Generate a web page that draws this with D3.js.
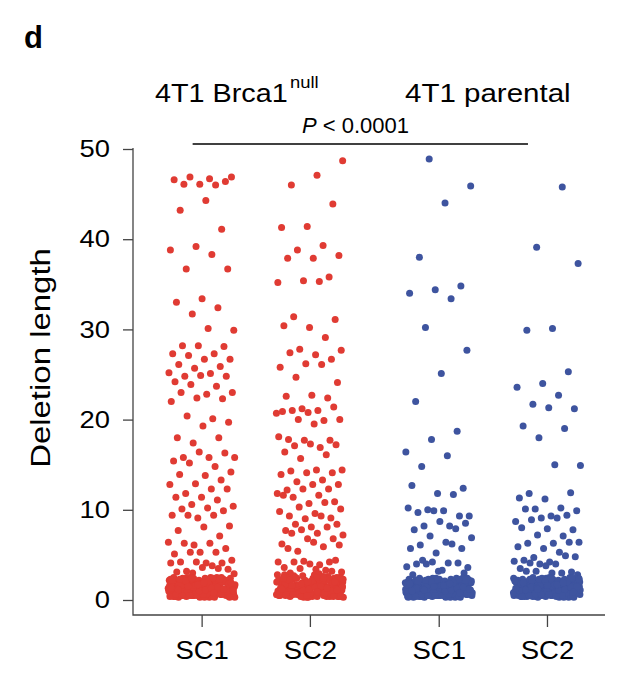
<!DOCTYPE html>
<html>
<head>
<meta charset="utf-8">
<script src="https://cdn.jsdelivr.net/npm/d3@7"></script>
<style>
  html, body { margin: 0; padding: 0; background: #fff; }
  svg { display: block; font-family: "Liberation Sans", Arial, Helvetica, sans-serif; }
</style>
</head>
<body>
<svg id="chart" width="636" height="686"></svg>
<script>
// ---------------- DATA ----------------
const panelLetter = "d";
const sampleLabels = ["SC1", "SC2", "SC1", "SC2"];
const conditionLabels = ["4T1 Brca1", "4T1 parental"];
const conditionSuperscript = "null";
const pValueLabel = "< 0.0001";
const yAxisTitle = "Deletion length";
const yTicks = [0, 10, 20, 30, 40, 50];

const brcaSC1 = [
  46.7,46.1,46.4,46.1,46.6,46.0,46.9,46.9,44.3,43.2,41.1,39.2,38.8,38.3,36.7,36.7,33.4,33.0,32.4,31.7,
  29.9,30.1,28.2,28.1,28.2,27.3,27.3,27.1,26.7,26.7,26.1,25.9,25.7,25.2,25.1,24.8,24.8,24.9,24.2,23.7,
  23.9,23.0,22.8,23.0,22.3,22.4,22.0,20.1,20.4,19.7,19.3,18.0,18.0,17.4,15.8,15.8,15.8,16.3,16.4,15.4,
  14.8,15.2,14.2,13.8,13.9,13.3,12.9,12.8,12.3,11.8,12.3,11.4,11.4,11.1,10.6,10.4,10.2,10.1,9.9,9.1,
  9.4,9.4,9.4,8.2,8.1,7.7,7.1,6.1,6.4,6.3,6.3,5.7,5.3,5.1,5.3,5.3,4.4,4.1,4.2,4.1,
  4.2,4.1,3.8,3.2,3.4,3.6,3.1,3.5,3.0,2.9,
  0.5,1.2,2.1,0.8,1.7,0.3,1.4,2.4,0.9,1.9,0.6,1.1,2.2,0.4,1.5,2.0,0.7,1.3,2.5,1.0,
  0.5,1.8,0.9,2.3,1.2,0.6,1.6,2.1,0.4,1.0,1.4,0.8,2.4,1.7,0.3,1.1,2.0,0.7,1.5,2.2,
  0.9,1.3,0.5,1.9,2.5,1.0,0.6,1.6,2.3,0.8,1.2,0.4,1.8,2.1,0.7,1.4,0.5,2.0,1.1,0.9,
  1.7,2.4,0.6,1.3,0.3,1.5,2.2,1.0,0.8,1.9,0.5,1.2,2.3,0.7,1.6,0.4,1.4,2.0,0.9,1.1,
  1.8,0.6,2.5,1.3,0.8,1.0,2.1,0.5,1.5,1.7,0.7,1.2,2.2,0.4,1.9,0.9,1.4,2.4,0.6,1.1,
  0.8,1.6,0.4,2.0,1.3,0.6,1.0,1.8,0.5,1.2,
  1.5,0.6,2.3,1.0,1.9,0.4,1.2,2.1,0.8,1.6,2.4,0.5,1.3,1.8,0.9,2.2,0.3,1.1,1.7,2.5,
  0.7,1.4,2.0,0.6,1.0,2.3,1.5,0.4,1.9,1.2,0.8,2.1,1.6,0.5,1.3,2.4,0.9,1.8,0.7,1.1,
  2.2,1.4,0.3,1.7,2.0,0.6,1.2,2.5,1.0,0.8,1.5,0.4,1.9,2.3,1.1,0.7,1.6,2.1,0.5,1.3,
  2.4,0.9,1.8,0.6,1.2,2.0,1.4,0.3,1.7,2.2,0.8,1.0,2.5,1.5,0.5,1.9,1.1,2.3,0.7,1.6,
  0.4,1.3,2.1,0.9,1.8,0.6,1.4,2.4,1.0,2.0,0.5,1.2,1.7,2.2,0.8,1.5,0.3,1.9,1.1,2.3
];
const brcaSC2 = [
  48.7,47.1,46.0,43.9,41.4,41.3,39.3,38.8,38.2,37.9,37.9,35.8,35.4,35.2,35.3,31.4,31.1,30.2,30.4,29.1,
  27.8,27.7,27.2,27.4,26.7,26.2,25.8,26.1,24.7,24.1,22.7,22.6,22.4,21.2,20.7,21.0,21.0,21.4,20.8,20.9,
  19.9,20.0,20.0,19.5,17.8,17.7,17.7,18.1,16.9,17.1,17.2,17.3,16.4,16.1,15.7,14.4,14.4,14.3,14.1,14.1,
  13.9,13.3,13.1,12.8,12.8,12.2,12.3,12.3,11.8,11.6,11.4,10.9,10.7,11.6,10.8,10.3,10.1,9.6,9.3,9.1,
  9.0,9.8,9.3,8.4,8.4,8.1,7.7,8.1,7.8,7.2,7.4,7.4,6.8,6.8,6.2,5.9,5.4,6.1,6.4,5.7,
  4.2,4.3,4.2,3.9,4.2,4.4,4.0,3.6,3.3,3.5,3.1,3.4,3.0,3.2,
  0.6,1.3,2.2,0.9,1.8,0.4,1.5,2.6,1.0,2.0,0.7,1.2,2.4,0.5,1.6,2.1,0.8,1.4,2.8,1.1,
  0.5,1.9,1.0,2.5,1.3,0.6,1.7,2.3,0.4,1.1,1.5,0.9,2.7,1.8,0.3,1.2,2.1,0.7,1.6,2.4,
  1.0,1.4,0.5,2.0,2.9,1.1,0.6,1.7,2.5,0.8,1.3,0.4,1.9,2.2,0.7,1.5,0.5,2.1,1.2,0.9,
  1.8,2.6,0.6,1.4,0.3,1.6,2.3,1.0,0.8,2.0,0.5,1.3,2.5,0.7,1.7,0.4,1.5,2.2,0.9,1.2,
  1.9,0.6,2.8,1.4,0.8,1.1,2.3,0.5,1.6,1.8,0.7,1.3,2.4,0.4,2.0,1.0,1.5,2.7,0.6,1.2,
  0.8,1.7,0.4,2.1,1.4,0.6,1.0,1.9,0.5,1.3,2.2,0.9,1.6,0.7,2.5,
  1.4,0.5,2.4,1.1,2.0,0.4,1.3,2.2,0.7,1.7,2.6,0.6,1.2,1.9,1.0,2.3,0.3,1.0,1.8,2.7,
  0.8,1.5,2.1,0.5,1.1,2.4,1.6,0.4,2.0,1.3,0.9,2.2,1.7,0.6,1.4,2.5,0.8,1.9,0.6,1.2,
  2.3,1.5,0.3,1.8,2.1,0.7,1.1,2.6,0.9,0.7,1.6,0.5,2.0,2.4,1.2,0.8,1.7,2.2,0.4,1.4,
  2.5,1.0,1.9,0.5,1.3,2.1,1.5,0.4,1.8,2.3,0.9,1.1,2.8,1.6,0.6,2.0,1.2,2.4,0.8,1.7,
  0.5,1.4,2.2,1.0,1.9,0.7,1.5,2.5,1.1,2.1,0.6,1.3,1.8,2.3,0.9,1.6,0.4,2.0,1.2,2.4
];
const parentalSC1 = [
  48.9,45.9,44.0,38.0,34.8,34.4,34.0,33.4,30.2,27.7,25.1,22.0,18.7,17.8,16.4,16.0,14.8,12.4,11.8,12.7,
  11.7,10.0,9.3,9.9,9.7,9.3,9.9,10.2,8.2,8.2,8.5,8.7,7.8,7.9,7.1,6.9,6.4,6.1,5.7,5.2,
  5.7,6.2,4.0,3.6,3.3,4.0,4.1,4.2,3.7,4.1,4.4,3.0,3.2,2.8,
  0.5,1.1,2.0,0.8,1.6,0.3,1.3,2.3,0.9,1.8,0.6,1.0,2.1,0.4,1.4,1.9,0.7,1.2,2.4,1.0,
  0.5,1.7,0.9,2.2,1.1,0.6,1.5,2.0,0.4,1.0,1.3,0.8,2.3,1.6,0.3,1.1,1.9,0.7,1.4,2.1,
  0.9,1.2,0.5,1.8,2.4,1.0,0.6,1.5,2.2,0.8,1.1,0.4,1.7,2.0,0.7,1.3,0.5,1.9,1.0,0.9,
  1.6,2.3,0.6,1.2,0.3,1.4,2.1,1.0,0.8,1.8,0.5,1.1,2.2,0.7,1.5,0.4,1.3,1.9,0.9,1.0,
  1.7,0.6,2.4,1.2,0.8,1.0,2.0,0.5,1.4,1.6,0.7,1.1,2.1,0.4,1.8,0.9,1.3,2.3,0.6,1.0,
  0.8,1.5,0.4,1.9,1.2,0.6,1.0,1.7,0.5,1.1,
  1.4,0.6,2.2,1.0,1.8,0.4,1.2,2.0,0.8,1.5,2.3,0.5,1.3,1.7,0.9,2.1,0.3,1.1,1.6,2.4,
  0.7,1.4,1.9,0.6,1.0,2.2,1.5,0.4,1.8,1.2,0.8,2.0,1.6,0.5,1.3,2.3,0.9,1.7,0.7,1.1,
  2.1,1.4,0.3,1.6,1.9,0.6,1.2,2.4,1.0,0.8,1.5,0.4,1.8,2.2,1.1,0.7,1.6,2.0,0.5,1.3,
  2.3,0.9,1.7,0.6,1.2,1.9,1.4,0.3,1.6,2.1,0.8,1.0,2.4,1.5,0.5,1.8,1.1,2.2,0.7,1.6,
  0.4,1.3,2.0,0.9,1.7,0.6,1.4,2.3,1.0,1.9,0.5,1.2,1.6,2.1,0.8,1.5,0.3,1.8,1.1,2.2
];
const parentalSC2 = [
  45.8,39.1,37.3,30.1,29.9,25.3,24.0,23.6,22.7,21.7,21.2,21.3,19.3,19.0,18.0,14.9,15.0,11.8,11.9,11.2,
  11.3,10.2,10.1,9.9,9.3,10.1,9.4,9.1,8.7,9.1,8.9,7.8,7.9,8.0,7.1,7.2,6.4,6.3,6.3,6.4,
  5.7,5.9,5.3,4.7,4.8,4.2,4.4,4.9,4.0,4.3,4.0,4.1,3.1,3.8,3.5,3.0,3.2,2.8,3.0,3.2,
  0.4,1.2,2.0,0.7,1.7,0.3,1.4,2.3,0.9,1.9,0.6,1.0,2.1,0.5,1.5,2.0,0.8,1.3,2.4,1.0,
  0.5,1.8,0.9,2.2,1.2,0.6,1.6,2.0,0.4,1.1,1.4,0.8,2.3,1.7,0.3,1.0,1.9,0.7,1.5,2.1,
  0.9,1.3,0.5,1.9,2.4,1.0,0.6,1.6,2.2,0.8,1.2,0.4,1.8,2.0,0.7,1.4,0.5,2.0,1.1,0.9,
  1.7,2.3,0.6,1.3,0.3,1.5,2.1,1.0,0.8,1.9,0.5,1.2,2.2,0.7,1.6,0.4,1.4,2.0,0.9,1.1,
  1.8,0.6,2.4,1.3,0.8,1.0,2.1,0.5,1.5,1.7,0.7,1.2,2.2,0.4,1.9,0.9,1.4,2.3,0.6,1.1,
  0.8,1.6,0.4,2.0,1.3,0.6,1.0,1.8,0.5,1.2,
  1.5,0.5,2.2,1.1,1.9,0.4,1.3,2.1,0.7,1.6,2.4,0.6,1.2,1.8,1.0,2.2,0.3,1.0,1.7,2.5,
  0.8,1.5,2.0,0.5,1.1,2.3,1.6,0.4,1.9,1.3,0.9,2.1,1.7,0.6,1.4,2.4,0.8,1.8,0.6,1.2,
  2.2,1.5,0.3,1.7,2.0,0.7,1.1,2.5,0.9,0.7,1.6,0.5,1.9,2.3,1.2,0.8,1.7,2.1,0.4,1.4,
  2.4,1.0,1.8,0.5,1.3,2.0,1.5,0.4,1.7,2.2,0.9,1.1,2.5,1.6,0.6,1.9,1.2,2.3,0.8,1.7,
  0.5,1.4,2.1,1.0,1.8,0.7,1.5,2.4,1.1,2.0,0.6,1.3,1.7,2.2,0.9,1.6,0.4,1.9,1.2,2.3
];
const groupValues = [brcaSC1, brcaSC2, parentalSC1, parentalSC2];
const groupCondition = [0, 0, 1, 1];
const conditionColors = ["#e03b33", "#3e549f"];

// ---------------- LAYOUT ----------------
const svg = d3.select("#chart");
const axisColor = "#444";
const conditionGap = 0.19;
const groupPos = i => i + (groupCondition[i] === 1 ? conditionGap : 0);

const x = d3.scaleLinear().domain([-0.634, 3.726]).range([133, 605]);
const y = d3.scaleLinear().domain([0, 50]).range([600, 149]);
const jitterHalf = 0.31;
const phi = 0.6180339887;

function stretch(sel, factor) {
  sel.each(function () {
    const w = this.getComputedTextLength();
    d3.select(this).attr("textLength", w * factor).attr("lengthAdjust", "spacingAndGlyphs");
  });
}

// points
groupValues.forEach((vals, g) => {
  const pts = vals.map((v, i) => {
    const u = (((i + 1) * phi + g * 0.37) % 1);
    return { v, xv: groupPos(g) + (u - 0.5) * 2 * jitterHalf };
  });
  svg.append("g")
    .selectAll("circle")
    .data(pts)
    .join("circle")
    .attr("cx", d => x(d.xv))
    .attr("cy", d => y(d.v))
    .attr("r", 3.5)
    .attr("fill", conditionColors[groupCondition[g]]);
});

// axes frame (L-shape)
svg.append("path")
  .attr("d", `M${x.range()[0]},${y(50) - 1}V615H${x.range()[1]}`)
  .attr("fill", "none").attr("stroke", axisColor).attr("stroke-width", 1.3);

// y axis
const yAxis = svg.append("g").attr("transform", `translate(${x.range()[0]},0)`)
  .call(d3.axisLeft(y).tickValues(yTicks).tickSize(10).tickPadding(13).tickFormat(d3.format("d")));
yAxis.select(".domain").remove();
yAxis.selectAll(".tick line").attr("stroke", axisColor).attr("stroke-width", 1.3);
yAxis.selectAll(".tick text")
  .attr("font-size", 24).attr("fill", "#000")
  .attr("font-family", "'Liberation Sans', Arial, sans-serif")
  .call(stretch, 1.14);

// x axis
const xAxis = svg.append("g").attr("transform", "translate(0,615)")
  .call(d3.axisBottom(x).tickValues(sampleLabels.map((_, i) => groupPos(i)))
    .tickSize(12).tickPadding(14).tickFormat((d, i) => sampleLabels[i]));
xAxis.select(".domain").remove();
xAxis.selectAll(".tick line").attr("stroke", axisColor).attr("stroke-width", 1.3);
xAxis.selectAll(".tick text")
  .attr("font-size", 25).attr("fill", "#000")
  .attr("font-family", "'Liberation Sans', Arial, sans-serif")
  .call(stretch, 1.1);

// y title
svg.append("text")
  .attr("transform", "translate(50,358) rotate(-90)")
  .attr("text-anchor", "middle")
  .attr("font-size", 27)
  .text(yAxisTitle)
  .call(stretch, 1.22);

// panel letter
svg.append("text")
  .attr("x", 24).attr("y", 48)
  .attr("font-size", 31).attr("font-weight", "bold")
  .text(panelLetter);

// condition headers
svg.append("text").attr("x", 155).attr("y", 102).attr("font-size", 25)
  .text(conditionLabels[0]).call(stretch, 1.15);
svg.append("text").attr("x", 290).attr("y", 88).attr("font-size", 16)
  .text(conditionSuperscript).call(stretch, 1.15);
svg.append("text").attr("x", 405).attr("y", 102).attr("font-size", 25)
  .text(conditionLabels[1]).call(stretch, 1.18);

// p-value bracket
const pText = svg.append("text").attr("x", 302).attr("y", 133).attr("font-size", 22);
pText.append("tspan").attr("font-style", "italic").text("P");
pText.append("tspan").text(" " + pValueLabel);
svg.append("line")
  .attr("x1", x(groupPos(0)) - 9).attr("x2", x(groupPos(3)) - 19)
  .attr("y1", 144).attr("y2", 144)
  .attr("stroke", "#000").attr("stroke-width", 1.6);
</script>
</body>
</html>
